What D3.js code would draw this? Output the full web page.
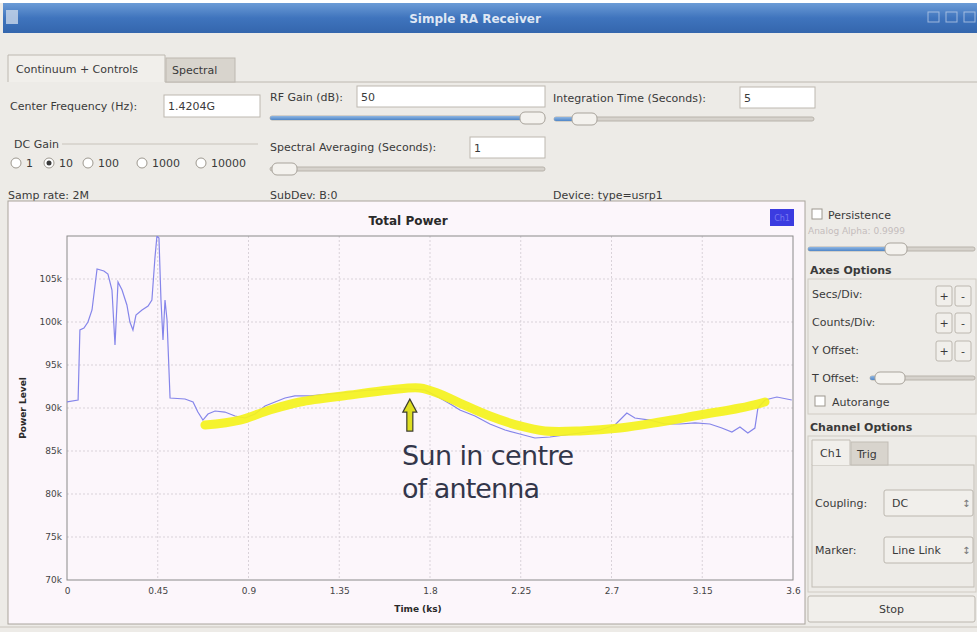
<!DOCTYPE html>
<html>
<head>
<meta charset="utf-8">
<script src="https://cdn.jsdelivr.net/npm/d3@7"></script>
<style>
  body { margin: 0; background: #edebe7; }
  text { font-family: "DejaVu Sans", sans-serif; }
</style>
</head>
<body>
<div id="chart"></div>
<script>
// chart values
var timeTicks = [0, 0.45, 0.9, 1.35, 1.8, 2.25, 2.7, 3.15, 3.6];
var powerTicks = [70000, 75000, 80000, 85000, 90000, 95000, 100000, 105000];

// total power (blue trace)
var timeKs = [0, 0.055, 0.064, 0.084, 0.104, 0.124, 0.149, 0.183, 0.203, 0.223, 0.238, 0.253, 0.273, 0.297,
  0.312, 0.327, 0.342, 0.372, 0.402, 0.421, 0.436, 0.446, 0.456, 0.466, 0.476, 0.486, 0.496, 0.511, 0.585,
  0.625, 0.649, 0.674, 0.699, 0.734, 0.783, 0.833, 0.883, 0.932, 0.982, 1.031, 1.081, 1.130, 1.205, 1.304,
  1.403, 1.502, 1.601, 1.700, 1.775, 1.849, 1.909, 1.948, 2.023, 2.097, 2.172, 2.246, 2.320, 2.395, 2.469,
  2.543, 2.643, 2.717, 2.776, 2.816, 2.890, 2.965, 3.039, 3.114, 3.188, 3.247, 3.297, 3.337, 3.376, 3.411,
  3.426, 3.461, 3.520, 3.594];
var powerLevel = [90700, 90930, 99070, 99300, 100000, 101400, 106160, 105930, 105580, 103720, 97330, 104650,
  103720, 101980, 100000, 99070, 100810, 101400, 101860, 102560, 107440, 110000, 109770, 102560, 97910,
  102560, 100230, 91160, 91050, 90700, 89530, 88600, 89300, 89650, 89530, 89070, 88840, 89300, 90230, 90700,
  91160, 91400, 91400, 91630, 91860, 92090, 92210, 92210, 92090, 91160, 90350, 89770, 89070, 88140, 87440,
  86980, 86510, 86630, 86860, 87090, 87440, 88020, 89420, 88840, 88600, 88140, 88140, 88260, 88140, 87670,
  87210, 87790, 87090, 87670, 90000, 90930, 91280, 90930];

// hand drawn yellow highlight
var sunTimeKs = [0.684, 0.858, 1.006, 1.155, 1.403, 1.601, 1.750, 1.849, 1.948, 2.097, 2.246, 2.370, 2.543,
  2.742, 2.940, 3.138, 3.337, 3.461];
var sunLevel = [88020, 88600, 89770, 90700, 91510, 92090, 92330, 91630, 90580, 89070, 87910, 87330, 87330,
  87670, 88370, 89190, 90000, 90700];
var sunPeak = [1.70, 91500];

var render = function() {
  let W = 977, H = 632;
  d3.select("#chart").html("");

  let svg = d3.select("#chart")
  .append("svg")
  .attr("width", W)
  .attr("height", H);

  let defs = svg.append("defs");
  let grad = defs.append("linearGradient").attr("id", "titlebar").attr("x1", 0).attr("y1", 0).attr("x2", 0).attr("y2", 1);
  grad.append("stop").attr("offset", "0%").attr("stop-color", "#6b9bd6");
  grad.append("stop").attr("offset", "50%").attr("stop-color", "#3f74bd");
  grad.append("stop").attr("offset", "100%").attr("stop-color", "#3466ad");
  let sgrad = defs.append("linearGradient").attr("id", "sliderfill").attr("x1", 0).attr("y1", 0).attr("x2", 0).attr("y2", 1);
  sgrad.append("stop").attr("offset", "0%").attr("stop-color", "#8fb6e2");
  sgrad.append("stop").attr("offset", "100%").attr("stop-color", "#4f86c8");

  let label = function(x, y, txt, opts) {
    opts = opts || {};
    return svg.append("text")
    .attr("x", x).attr("y", y)
    .attr("font-size", opts.size || 11)
    .attr("font-weight", opts.bold ? "bold" : "normal")
    .attr("fill", opts.color || "#3a3a3a")
    .attr("text-anchor", opts.anchor || "start")
    .text(txt);
  };
  let textbox = function(x, y, w, h, txt) {
    svg.append("rect").attr("x", x).attr("y", y).attr("width", w).attr("height", h)
    .attr("fill", "#ffffff").attr("stroke", "#bdb8b0");
    label(x + 4, y + h / 2 + 4, txt);
  };
  let slider = function(x, y, w, hx, hw) {
    svg.append("rect").attr("x", x).attr("y", y - 2).attr("width", w).attr("height", 4)
    .attr("rx", 2).attr("fill", "#d6d2cc").attr("stroke", "#b8b3ab");
    if (hx > x + 2) {
      svg.append("rect").attr("x", x).attr("y", y - 2).attr("width", hx - x + 4).attr("height", 4)
      .attr("rx", 2).attr("fill", "url(#sliderfill)");
    }
    svg.append("rect").attr("x", hx).attr("y", y - 6).attr("width", hw).attr("height", 12)
    .attr("rx", 5).attr("fill", "#f4f2ee").attr("stroke", "#a8a39b");
  };
  let button = function(x, y, w, h, txt) {
    svg.append("rect").attr("x", x).attr("y", y).attr("width", w).attr("height", h)
    .attr("rx", 2).attr("fill", "#f1efeb").attr("stroke", "#bcb7af");
    label(x + w / 2, y + h / 2 + 4, txt, { anchor: "middle" });
  };
  let checkbox = function(x, y) {
    svg.append("rect").attr("x", x).attr("y", y).attr("width", 10).attr("height", 10)
    .attr("fill", "#ffffff").attr("stroke", "#9d988f");
  };
  let radio = function(x, y, on) {
    svg.append("circle").attr("cx", x).attr("cy", y).attr("r", 5)
    .attr("fill", "#ffffff").attr("stroke", "#9d988f");
    if (on) {
      svg.append("circle").attr("cx", x).attr("cy", y).attr("r", 2.5).attr("fill", "#3a3a3a");
    }
  };

  // window title bar
  svg.append("rect").attr("x", 0).attr("y", 0).attr("width", W).attr("height", 3).attr("fill", "#ffffff");
  svg.append("rect").attr("x", 3).attr("y", 3).attr("width", W - 3).attr("height", 30).attr("fill", "url(#titlebar)");
  svg.append("rect").attr("x", 6).attr("y", 10).attr("width", 12).attr("height", 14).attr("fill", "#c9d7ea").attr("opacity", 0.8);
  label(475, 23, "Simple RA Receiver", { bold: true, color: "#dfe7f4", anchor: "middle", size: 12 });
  [928, 946, 964].forEach(function(bx) {
    svg.append("rect").attr("x", bx).attr("y", 12).attr("width", 11).attr("height", 10)
    .attr("fill", "none").attr("stroke", "#c8d6ec").attr("opacity", 0.7);
  });

  // tabs
  svg.append("line").attr("x1", 165).attr("x2", W).attr("y1", 82).attr("y2", 82).attr("stroke", "#bdb8b0");
  svg.append("path").attr("d", "M8,82 L8,55 L165,55 L165,82").attr("fill", "#f1efeb").attr("stroke", "#bdb8b0");
  svg.append("rect").attr("x", 166).attr("y", 58).attr("width", 69).attr("height", 24)
  .attr("fill", "#d8d4cd").attr("stroke", "#bdb8b0");
  label(16, 73, "Continuum + Controls");
  label(172, 74, "Spectral");

  // control row
  label(10, 110, "Center Frequency (Hz):");
  textbox(164, 95, 96, 22, "1.4204G");
  label(270, 101, "RF Gain (dB):");
  textbox(357, 86, 188, 21, "50");
  slider(270, 118, 275, 520, 25);
  label(553, 102, "Integration Time (Seconds):");
  textbox(740, 87, 75, 21, "5");
  slider(554, 119, 260, 572, 25);

  label(14, 148, "DC Gain");
  svg.append("line").attr("x1", 62).attr("x2", 258).attr("y1", 144).attr("y2", 144).attr("stroke", "#c8c3bb");
  let gains = ["1", "10", "100", "1000", "10000"];
  let gx = [16, 49, 88, 142, 201];
  gains.forEach(function(g, i) {
    radio(gx[i], 163, g === "10");
    label(gx[i] + 10, 167, g);
  });
  label(270, 151, "Spectral Averaging (Seconds):");
  textbox(470, 137, 75, 21, "1");
  slider(270, 169, 275, 272, 25);

  label(8, 199, "Samp rate: 2M");
  label(270, 199, "SubDev: B:0");
  label(553, 199, "Device: type=usrp1");

  // plot widget
  svg.append("rect").attr("x", 8).attr("y", 201).attr("width", 797).attr("height", 423)
  .attr("fill", "#fcf6fb").attr("stroke", "#a9a49c");

  let margin = { left: 67, right: 793, top: 236, bottom: 580 };
  let timeScale = d3.scaleLinear().domain([0, 3.6]).range([margin.left, margin.right]);
  let powerScale = d3.scaleLinear().domain([70000, 110000]).range([margin.bottom, margin.top]);

  let g = svg.append("g");
  g.append("text").attr("x", 408).attr("y", 225).attr("text-anchor", "middle")
  .attr("font-size", 12).attr("font-weight", "bold").attr("fill", "#2a2a2a").text("Total Power");

  // grid
  g.selectAll(".vgrid").data(timeTicks.slice(1, -1)).enter().append("line")
  .attr("x1", (d) => timeScale(d)).attr("x2", (d) => timeScale(d))
  .attr("y1", margin.top).attr("y2", margin.bottom)
  .attr("stroke", "#d9d2d9").attr("stroke-dasharray", "2,2");
  g.selectAll(".hgrid").data(powerTicks.slice(1)).enter().append("line")
  .attr("x1", margin.left).attr("x2", margin.right)
  .attr("y1", (d) => powerScale(d)).attr("y2", (d) => powerScale(d))
  .attr("stroke", "#d9d2d9").attr("stroke-dasharray", "2,2");

  let x_axis = d3.axisBottom(timeScale).tickValues(timeTicks).tickSize(0).tickPadding(8)
  .tickFormat(d3.format(""));
  g.append("g").attr("transform", "translate(0," + margin.bottom + ")").call(x_axis)
  .call((a) => a.select(".domain").remove())
  .selectAll("text").attr("font-size", 9).attr("fill", "#444").attr("font-family", "DejaVu Sans");

  let y_axis = d3.axisLeft(powerScale).tickValues(powerTicks).tickSize(0).tickPadding(5)
  .tickFormat(d3.format("~s"));
  g.append("g").attr("transform", "translate(" + margin.left + ",0)").call(y_axis)
  .call((a) => a.select(".domain").remove())
  .selectAll("text").attr("font-size", 9).attr("fill", "#444").attr("font-family", "DejaVu Sans");

  g.append("rect").attr("x", margin.left).attr("y", margin.top)
  .attr("width", margin.right - margin.left).attr("height", margin.bottom - margin.top)
  .attr("fill", "none").attr("stroke", "#8a8a8a");

  g.append("text").attr("transform", "translate(26,408) rotate(-90)").attr("text-anchor", "middle")
  .attr("font-size", 9).attr("font-weight", "bold").attr("fill", "#2a2a2a").text("Power Level");
  g.append("text").attr("x", 418).attr("y", 612).attr("text-anchor", "middle")
  .attr("font-size", 9).attr("font-weight", "bold").attr("fill", "#2a2a2a").text("Time (ks)");

  // legend
  g.append("rect").attr("x", 770).attr("y", 209).attr("width", 24).attr("height", 17).attr("fill", "#3b3be0");
  g.append("text").attr("x", 782).attr("y", 221).attr("text-anchor", "middle")
  .attr("font-size", 8).attr("fill", "#7878f0").text("Ch1");

  // traces
  let clip = defs.append("clipPath").attr("id", "plotclip");
  clip.append("rect").attr("x", margin.left).attr("y", margin.top)
  .attr("width", margin.right - margin.left).attr("height", margin.bottom - margin.top);

  let powerData = timeKs.map((t, i) => ({ t: t, v: powerLevel[i] }));
  let sunData = sunTimeKs.map((t, i) => ({ t: t, v: sunLevel[i] }));

  let line = d3.line().x((d) => timeScale(d.t)).y((d) => powerScale(d.v));
  g.append("path").datum(powerData).attr("clip-path", "url(#plotclip)")
  .attr("d", line).attr("fill", "none").attr("stroke", "#8585ea").attr("stroke-width", 1.2);

  let smooth = d3.line().curve(d3.curveCatmullRom).x((d) => timeScale(d.t)).y((d) => powerScale(d.v));
  g.append("path").datum(sunData)
  .attr("d", smooth).attr("fill", "none").attr("stroke", "#f4f21c").attr("stroke-width", 9)
  .attr("stroke-linecap", "round").attr("opacity", 0.92);

  // annotation arrow
  let ax = timeScale(sunPeak[0]), ay = powerScale(sunPeak[1]) + 4;
  let arrow = [[ax, ay], [ax + 7, ay + 13], [ax + 3, ay + 13], [ax + 3, ay + 32], [ax - 3, ay + 32], [ax - 3, ay + 13], [ax - 7, ay + 13]];
  g.append("path").attr("d", d3.line()(arrow) + "Z")
  .attr("fill", "#dede22").attr("stroke", "#3e3e2e").attr("stroke-width", 1.2);
  g.append("text").attr("x", 402).attr("y", 465).attr("font-family", "Liberation Sans, Arial, sans-serif")
  .attr("font-size", 27).attr("fill", "#33364a").attr("textLength", 172).text("Sun in centre");
  g.append("text").attr("x", 402).attr("y", 498).attr("font-family", "Liberation Sans, Arial, sans-serif")
  .attr("font-size", 27).attr("fill", "#33364a").attr("textLength", 138).text("of antenna");

  // right control panel
  checkbox(812, 209);
  label(828, 219, "Persistence");
  label(808, 234, "Analog Alpha: 0.9999", { size: 9, color: "#c4bcbc" });
  slider(808, 249, 167, 885, 22);
  label(810, 274, "Axes Options", { bold: true });
  svg.append("rect").attr("x", 808).attr("y", 279).attr("width", 168).attr("height", 135)
  .attr("fill", "none").attr("stroke", "#d0cbc3");
  label(812, 298, "Secs/Div:");
  label(812, 326, "Counts/Div:");
  label(812, 354, "Y Offset:");
  [286, 313, 341].forEach(function(by) {
    button(936, by, 16, 20, "+");
    button(955, by, 16, 20, "-");
  });
  label(812, 382, "T Offset:");
  slider(870, 378, 105, 875, 30);
  checkbox(815, 396);
  label(832, 406, "Autorange");

  label(810, 431, "Channel Options", { bold: true });
  svg.append("rect").attr("x", 808).attr("y", 436).attr("width", 168).attr("height", 156)
  .attr("fill", "none").attr("stroke", "#d0cbc3");
  svg.append("rect").attr("x", 812).attr("y", 465).attr("width", 162).attr("height", 122)
  .attr("fill", "#edebe7").attr("stroke", "#c2bdb5");
  svg.append("path").attr("d", "M812,465 L812,440 L850,440 L850,465").attr("fill", "#f1efeb").attr("stroke", "#c2bdb5");
  svg.append("rect").attr("x", 851).attr("y", 442).attr("width", 37).attr("height", 23)
  .attr("fill", "#d8d4cd").attr("stroke", "#c2bdb5");
  label(820, 457, "Ch1");
  label(857, 458, "Trig");

  label(815, 507, "Coupling:");
  svg.append("rect").attr("x", 884).attr("y", 490).attr("width", 89).attr("height", 26)
  .attr("rx", 2).attr("fill", "#f1efeb").attr("stroke", "#bcb7af");
  label(892, 507, "DC");
  label(962, 507, "\u2195", { size: 10, color: "#777" });
  label(815, 554, "Marker:");
  svg.append("rect").attr("x", 884).attr("y", 537).attr("width", 89).attr("height", 26)
  .attr("rx", 2).attr("fill", "#f1efeb").attr("stroke", "#bcb7af");
  label(892, 554, "Line Link");
  label(962, 554, "\u2195", { size: 10, color: "#777" });

  button(808, 596, 167, 26, "Stop");
  svg.append("line").attr("x1", 0).attr("x2", W).attr("y1", 627).attr("y2", 627).attr("stroke", "#c9c4bc");
};

render();
</script>
</body>
</html>
